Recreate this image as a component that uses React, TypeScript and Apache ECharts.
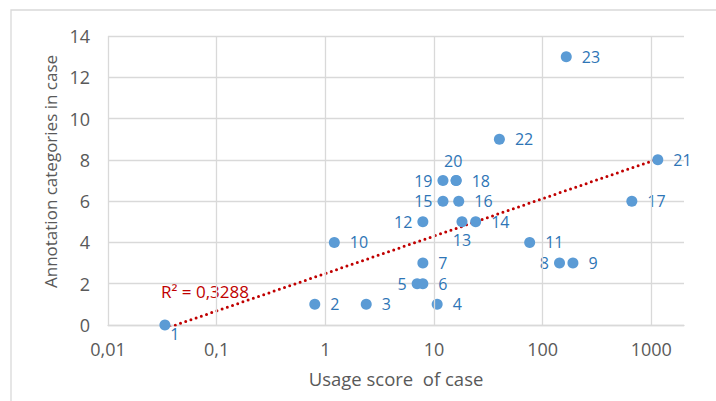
import React, { useEffect, useRef } from "react";
import * as echarts from "echarts";

const caseIds = ["1","2","3","4","5","6","7","8","9","10","11","12","13","14","15","16","17","18","19","20","21","22","23"];
const usageScore = [0.0334, 0.8, 2.38, 10.7, 7.0, 7.9, 7.9, 143, 190, 1.21, 76, 7.9, 18.1, 24.2, 12.1, 16.9, 662, 16.0, 12.1, 16.0, 1148, 40, 165];
const annotationCategories = [0, 1, 1, 1, 2, 2, 3, 3, 3, 4, 4, 5, 5, 5, 6, 6, 6, 7, 7, 7, 8, 9, 13];
const xGridValues = [0.01, 0.1, 1, 10, 100, 1000];
const rSquaredText = "R² = 0,3288";
const xTitle = "Usage score\u00A0 of case";
const yTitle = "Annotation categories in case";

const leftLabelIds = ["5", "8", "12", "15", "19"];
const bottomLabelIds = ["13"];
const topLabelIds = ["20"];

const FONT = "'Open Sans', Lato, sans-serif";

function labelFor(id: string) {
  if (id === "1") return { position: "inside", offset: [10, 9] };
  if (leftLabelIds.includes(id)) return { position: "left", distance: 5 };
  if (bottomLabelIds.includes(id)) return { position: "bottom", distance: 5 };
  if (topLabelIds.includes(id)) return { position: "top", distance: 6, offset: [-3, 0] };
  return { position: "right", distance: 10 };
}

function fmtX(v: number) {
  const l = Math.log10(v);
  if (Math.abs(l - Math.round(l)) > 1e-6) return "";
  return String(Number(v.toPrecision(6))).replace(".", ",");
}

export default function App() {
  const ref = useRef<HTMLDivElement>(null);
  useEffect(() => {
    if (!ref.current) return;
    const chart = echarts.init(ref.current, undefined, { renderer: "svg" });

    // logarithmic trendline (least squares on ln x)
    const lx = usageScore.map((v) => Math.log(v));
    const n = lx.length;
    const mx = lx.reduce((s, v) => s + v, 0) / n;
    const my = annotationCategories.reduce((s, v) => s + v, 0) / n;
    let sxy = 0, sxx = 0;
    for (let i = 0; i < n; i++) {
      sxy += (lx[i] - mx) * (annotationCategories[i] - my);
      sxx += (lx[i] - mx) * (lx[i] - mx);
    }
    const a = sxy / sxx;
    const b = my - a * mx;
    const xMin = Math.min(...usageScore);
    const xMax = Math.max(...usageScore);
    const trend = [xMin, xMax].map((x) => [x, a * Math.log(x) + b]);

    const points = caseIds.map((id, i) => ({
      name: id,
      value: [usageScore[i], annotationCategories[i]],
      label: labelFor(id),
    }));

    chart.setOption({
      animation: false,
      backgroundColor: "#ffffff",
      grid: { left: 108, right: 32, top: 36, bottom: 76 },
      xAxis: {
        type: "log",
        logBase: 10,
        min: 0.01,
        max: 2000,
        name: xTitle,
        nameLocation: "middle",
        nameGap: 44,
        nameTextStyle: { color: "#595959", fontSize: 18.5, fontFamily: FONT },
        axisLine: { show: true, lineStyle: { color: "#D9D9D9", width: 1.3 } },
        axisTick: { show: false },
        splitLine: { show: false },
        axisLabel: {
          color: "#595959",
          fontSize: 18,
          fontFamily: FONT,
          margin: 15,
          formatter: (v: number) => fmtX(v),
        },
      },
      yAxis: {
        type: "value",
        min: 0,
        max: 14,
        interval: 2,
        name: yTitle,
        nameLocation: "middle",
        nameGap: 44,
        nameTextStyle: { color: "#595959", fontSize: 17, fontFamily: FONT, padding: [0, 0, 0, 18] },
        axisLine: { show: false },
        axisTick: { show: false },
        splitLine: { show: true, lineStyle: { color: "#D9D9D9", width: 1.3 } },
        axisLabel: { color: "#595959", fontSize: 18, fontFamily: FONT, margin: 18 },
      },
      graphic: [
        {
          type: "rect",
          shape: { x: 11, y: 10, width: 720, height: 420 },
          style: { fill: "none", stroke: "#D9D9D9", lineWidth: 1.3 },
          silent: true,
          z: -10,
        },
        {
          type: "text",
          x: 205,
          y: 291,
          style: {
            text: rSquaredText,
            fill: "#C00000",
            font: `17px ${FONT}`,
            align: "center",
            verticalAlign: "middle",
          },
        },
      ],
      series: [
        {
          type: "line",
          data: [],
          silent: true,
          markLine: {
            silent: true,
            symbol: ["none", "none"],
            label: { show: false },
            lineStyle: { color: "#D9D9D9", type: "solid", width: 1.3 },
            data: xGridValues.map((v) => ({ xAxis: v })),
          },
        },
        {
          type: "line",
          data: trend,
          symbol: "none",
          silent: true,
          z: 3,
          lineStyle: { color: "#C00000", width: 3, type: [0, 5.5], cap: "round" },
        },
        {
          type: "scatter",
          data: points,
          symbolSize: 11,
          z: 4,
          itemStyle: { color: "#5B9BD5", opacity: 1 },
          label: {
            show: true,
            formatter: (p: any) => p.name,
            color: "#2E75B6",
            fontSize: 16,
            fontFamily: FONT,
          },
        },
      ],
    });
    return () => chart.dispose();
  }, []);
  return (
    <div
      ref={ref}
      style={{ position: "fixed", left: 0, top: 0, width: 716, height: 401 }}
    />
  );
}
